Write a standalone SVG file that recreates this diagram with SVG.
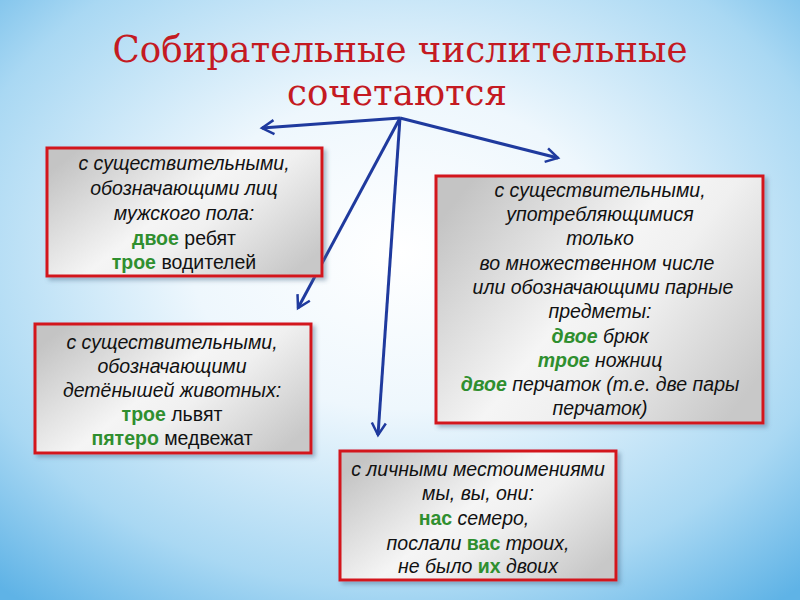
<svg xmlns="http://www.w3.org/2000/svg" width="800" height="600" viewBox="0 0 800 600">
<defs>
<radialGradient id="bg" cx="0.5" cy="0.42" r="0.75">
<stop offset="0" stop-color="#ffffff"/>
<stop offset="0.35" stop-color="#eef7fd"/>
<stop offset="0.75" stop-color="#a9d8f3"/>
<stop offset="1" stop-color="#5fb3e6"/>
</radialGradient>
<linearGradient id="box" x1="0" y1="0.2" x2="1" y2="0.8">
<stop offset="0" stop-color="#c4c4c4"/>
<stop offset="0.45" stop-color="#f5f5f5"/>
<stop offset="0.6" stop-color="#f0f0f0"/>
<stop offset="1" stop-color="#c8c8c8"/>
</linearGradient>
<marker id="ah" viewBox="0 0 20 20" refX="14" refY="10" markerWidth="20" markerHeight="20" markerUnits="userSpaceOnUse" orient="auto">
<path d="M2,3 L14,10 L2,17" fill="none" stroke="#1f3a9e" stroke-width="2.5"/>
</marker>
<filter id="sh" x="-5%" y="-5%" width="115%" height="120%">
<feDropShadow dx="3" dy="3" stdDeviation="2" flood-color="#4a6a8a" flood-opacity="0.45"/>
</filter>
</defs>
<style>
.b{fill:url(#box);stroke:#d3151c;stroke-width:3;filter:url(#sh)}
.t{font-family:"Liberation Sans",Arial,sans-serif;font-size:19.5px;fill:#111;text-anchor:middle}
.i{font-style:italic}
.g{fill:#2f8f2f;font-weight:bold}
.ttl{font-family:"DejaVu Serif","Liberation Serif",serif;font-size:38px;fill:#c41a22;text-anchor:middle}
.c{stroke:#1f3a9e;stroke-width:3;fill:none;marker-end:url(#ah)}
</style>
<rect width="800" height="600" fill="url(#bg)"/>
<g id="title">
<text class="ttl" x="400" y="62" textLength="575" lengthAdjust="spacingAndGlyphs">Собирательные числительные</text>
<text class="ttl" x="397" y="105" textLength="220" lengthAdjust="spacingAndGlyphs">сочетаются</text>
</g>
<g id="connectors">
<line class="c" x1="400" y1="118" x2="262" y2="128"/>
<line class="c" x1="400" y1="118" x2="558" y2="158"/>
<line class="c" x1="400" y1="118" x2="298" y2="308"/>
<line class="c" x1="400" y1="118" x2="378" y2="435"/>
</g>
<g id="box1">
<rect class="b" x="47" y="148" width="275" height="128"/>
<text class="t i" x="184" y="170">с  существительными,</text>
<text class="t i" x="184" y="195">обозначающими лиц</text>
<text class="t i" x="184" y="220">мужского пола:</text>
<text class="t" x="184" y="245"><tspan class="g">двое</tspan> ребят</text>
<text class="t" x="184" y="269"><tspan class="g">трое</tspan> водителей</text>
</g>
<g id="box2">
<rect class="b" x="436" y="176" width="327" height="247"/>
<text class="t i" x="600" y="197">с существительными,</text>
<text class="t i" x="600" y="221">употребляющимися</text>
<text class="t i" x="600" y="245">только</text>
<text class="t i" x="597" y="270">во множественном числе</text>
<text class="t i" x="603" y="294">или обозначающими парные</text>
<text class="t i" x="600" y="318">предметы:</text>
<text class="t i" x="600" y="343"><tspan class="g">двое</tspan> брюк</text>
<text class="t i" x="600" y="367"><tspan class="g">трое</tspan> ножниц</text>
<text class="t i" x="600" y="391"><tspan class="g">двое</tspan> перчаток (т.е. две пары</text>
<text class="t i" x="600" y="415">перчаток)</text>
</g>
<g id="box3">
<rect class="b" x="35" y="324" width="276" height="129"/>
<text class="t i" x="172" y="349">с  существительными,</text>
<text class="t i" x="172" y="373">обозначающими</text>
<text class="t i" x="172" y="397">детёнышей животных:</text>
<text class="t" x="172" y="421"><tspan class="g">трое</tspan> львят</text>
<text class="t" x="172" y="445"><tspan class="g">пятеро</tspan> медвежат</text>
</g>
<g id="box4">
<rect class="b" x="340" y="451" width="276" height="129"/>
<text class="t i" x="478" y="476">с личными местоимениями</text>
<text class="t i" x="478" y="500">мы, вы, они:</text>
<text class="t i" x="474" y="525"><tspan class="g" font-style="normal">нас</tspan> семеро,</text>
<text class="t i" x="478" y="550">послали <tspan class="g" font-style="normal">вас</tspan> троих,</text>
<text class="t i" x="478" y="573">не было <tspan class="g" font-style="normal">их</tspan> двоих</text>
</g>
</svg>
